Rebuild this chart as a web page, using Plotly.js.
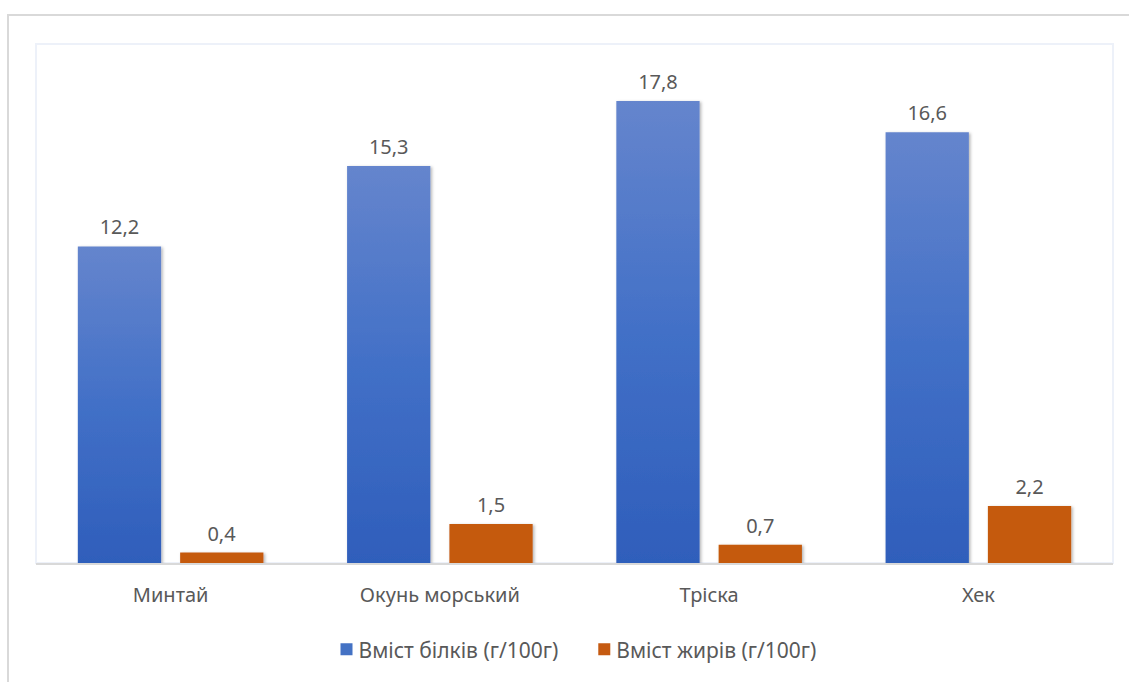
<!DOCTYPE html>
<html>
<head>
<meta charset="utf-8">
<script src="https://cdn.plot.ly/plotly-3.0.1.min.js"></script>
<style>
  html, body { margin: 0; padding: 0; background: #ffffff; }
  #wrap { position: relative; width: 1129px; height: 682px; overflow: hidden; }
  #frame { position: absolute; left: 7px; top: 14px; width: 1200px; height: 800px;
           border-left: 2px solid #d9d9d9; border-top: 2px solid #d9d9d9; pointer-events: none; }
  #chart { position: absolute; left: 0; top: 0; width: 1129px; height: 682px; }
</style>
</head>
<body>
<div id="wrap">
  <div id="frame"></div>
  <div id="chart"></div>
</div>
<script>
const categories = ["Минтай", "Окунь морський", "Тріска", "Хек"];
const seriesNames = ["Вміст білків (г/100г)", "Вміст жирів (г/100г)"];
const proteinValues = [12.2, 15.3, 17.8, 16.6];
const fatValues = [0.4, 1.5, 0.7, 2.2];

const fmt = v => String(v).replace(".", ",");
const FONT = "Noto Sans, Open Sans, sans-serif";
const TXT = "#595959";
const FS = 20;

const traces = [
  {
    type: "bar", name: seriesNames[0], x: categories, y: proteinValues,
    text: proteinValues.map(fmt), textposition: "outside", cliponaxis: false,
    textfont: { family: FONT, size: FS, color: TXT },
    marker: { color: "#4472c4", line: { width: 0 } },
    hoverinfo: "none"
  },
  {
    type: "bar", name: seriesNames[1], x: categories, y: fatValues,
    text: fatValues.map(fmt), textposition: "outside", cliponaxis: false,
    textfont: { family: FONT, size: FS, color: TXT },
    marker: { color: "#c55a11", line: { width: 0 } },
    hoverinfo: "none"
  }
];

const layout = {
  width: 1129, height: 682,
  margin: { l: 36, r: 16, t: 44, b: 117 },
  paper_bgcolor: "rgba(0,0,0,0)",
  plot_bgcolor: "#ffffff",
  barmode: "group",
  bargap: 0.24,
  bargroupgap: 0.186,
  font: { family: FONT, color: TXT, size: FS },
  showlegend: true,
  legend: {
    orientation: "h", x: 0.5, xanchor: "center", y: -0.167, yanchor: "middle",
    font: { family: FONT, size: 21, color: TXT }, traceorder: "normal",
    itemclick: false
  },
  xaxis: {
    type: "category", showgrid: false, zeroline: false,
    showline: true, linecolor: "#d9d9d9", linewidth: 2,
    ticks: "outside", ticklen: 0, ticklabelstandoff: 13,
    tickfont: { family: FONT, size: FS, color: TXT }
  },
  yaxis: {
    range: [0, 20], showgrid: false, zeroline: false, showline: false,
    showticklabels: false, ticks: ""
  },
  shapes: [
    { type: "rect", xref: "paper", yref: "paper", x0: 0, x1: 1, y0: 0, y1: 1,
      line: { color: "#edf1f9", width: 2 }, layer: "below" }
  ]
};

Plotly.newPlot("chart", traces, layout, { displayModeBar: false, staticPlot: true }).then(gd => {
  const svg = gd.querySelector("svg.main-svg");
  const NS = "http://www.w3.org/2000/svg";
  let defs = svg.querySelector("defs");
  if (!defs) { defs = document.createElementNS(NS, "defs"); svg.insertBefore(defs, svg.firstChild); }
  defs.insertAdjacentHTML("beforeend",
    '<linearGradient id="blueGrad" x1="0" y1="0" x2="0" y2="1">' +
      '<stop offset="0" stop-color="#6585cd"/>' +
      '<stop offset="0.5" stop-color="#4270c7"/>' +
      '<stop offset="1" stop-color="#2f5ebb"/>' +
    '</linearGradient>' +
    '<filter id="barShadow" x="-20%" y="-20%" width="140%" height="140%">' +
      '<feDropShadow dx="1.5" dy="1" stdDeviation="1.5" flood-color="#000" flood-opacity="0.3"/>' +
    '</filter>');
  const barTraces = gd.querySelectorAll(".barlayer .trace.bars");
  barTraces.forEach((tr, i) => {
    tr.querySelectorAll(".point path").forEach(p => {
      if (i === 0) p.style.fill = "url(#blueGrad)";
      p.setAttribute("filter", "url(#barShadow)");
    });
    tr.querySelectorAll(".point text").forEach(t => {
      const cur = t.getAttribute("transform") || "";
      t.setAttribute("transform", cur + " translate(0,-3)");
    });
  });
  // tighten legend: text closer to symbol, wider gap between items
  const items = gd.querySelectorAll(".legend .traces");
  items.forEach((it, k) => {
    const t = it.querySelector(".legendtext");
    if (t) t.setAttribute("x", parseFloat(t.getAttribute("x") || "0") - 8);
    const cur = it.getAttribute("transform") || "";
    it.setAttribute("transform", cur + " translate(" + (k === 0 ? -3 : 10) + ",0)");
  });
});
</script>
</body>
</html>
